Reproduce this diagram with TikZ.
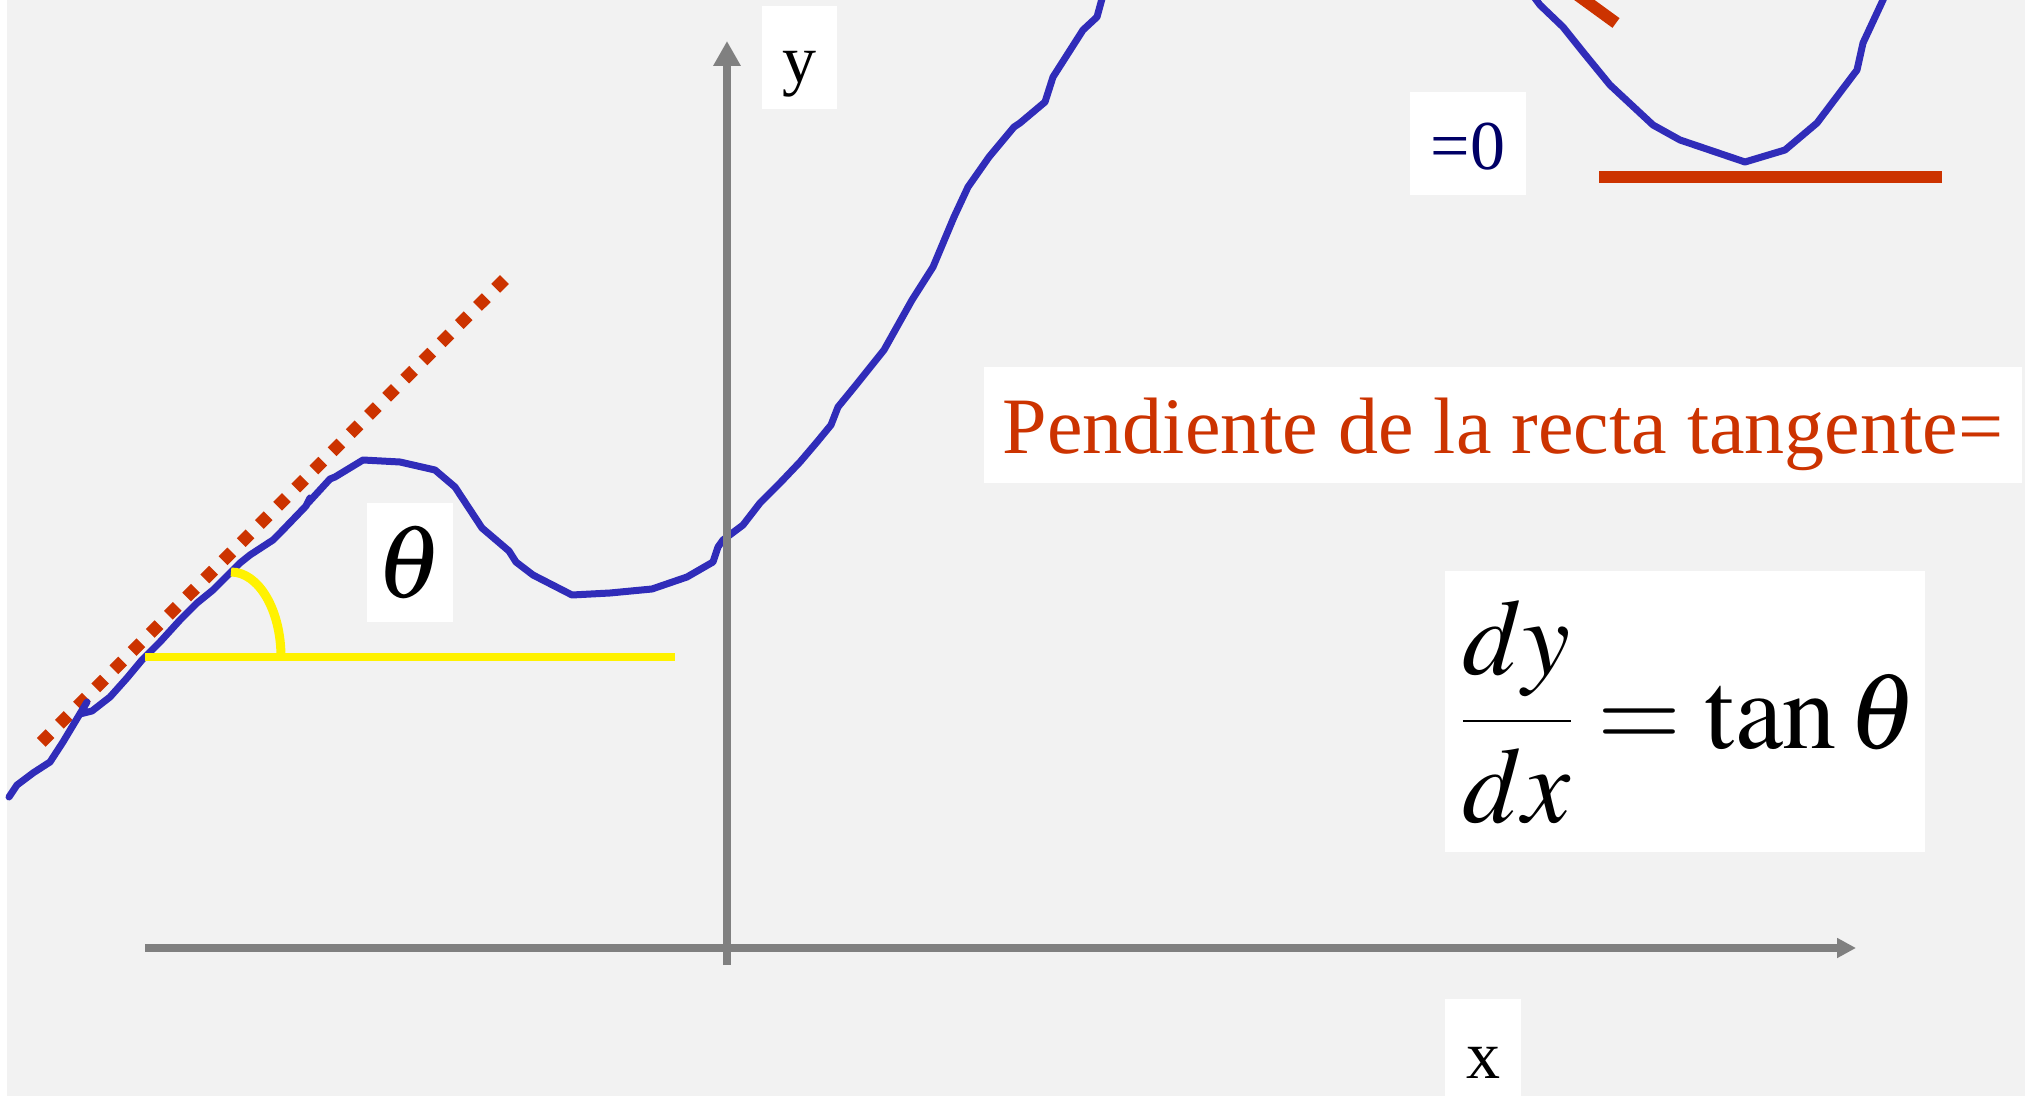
\documentclass[tikz,border=0pt]{standalone}
\usepackage{amsmath}
\usepackage{mathptmx}
\usepackage[no-math]{fontspec}
\setmainfont{Liberation Serif}
\usetikzlibrary{arrows.meta}
\definecolor{bggray}{RGB}{242,242,242}
\definecolor{curveblue}{RGB}{48,44,185}
\definecolor{tanred}{RGB}{204,51,0}
\definecolor{axisgray}{RGB}{128,128,128}
\definecolor{labelnavy}{RGB}{0,0,102}
\begin{document}
\begin{tikzpicture}[x=0.5pt,y=-0.5pt,
  axis/.style={draw=axisgray,line width=4pt},
  curve/.style={draw=curveblue,line width=3.5pt,line join=round,line cap=round},
  labelbox/.style={fill=white,inner sep=0pt,anchor=center}]
\useasboundingbox (0,0) rectangle (2025,1096);
\fill[bggray] (0,0) rectangle (2025,1096);
\fill[white] (0,0) rectangle (7,1096);
\clip (0,0) rectangle (2025,1096);

\draw[tanred,line width=6.2pt,dash pattern=on 6.2pt off 6.65pt] (41.2,742.4) -- (504.4,279.6);
\draw[tanred,line width=6pt] (1550,-25) -- (1616,23);
\draw[tanred,line width=6pt] (1599,177) -- (1942,177);

\draw[curve] plot coordinates {(9,797) (17,785) (33,773) (50,762) (63,742) (75,722)
  (87,702) (80,714) (92,711) (110,697) (127,678) (142,660) (160,642) (180,620)
  (197,603) (213,590) (230,573) (240,563) (250,555) (273,540) (280,533) (306,506)
  (310,498) (308,503) (330,479) (335,477) (363,460) (400,462) (435,470) (455,487)
  (482,528) (509,551) (516,562) (533,575) (572,595) (610,593) (652,589) (687,577)
  (713,562) (718,547) (723,540) (743,525) (760,503) (780,483) (800,462) (817,442)
  (831,425) (838,407) (856,385) (884,350) (912,300) (933,267) (954,217) (968,187)
  (989,157) (1014,127) (1020,123) (1045,102) (1053,77) (1083,30) (1097,17)
  (1103,-5) (1106,-15)};
\draw[curve] plot coordinates {(1525,-15) (1540,5) (1563,27) (1583,52) (1610,85)
  (1653,125) (1680,140) (1745,162) (1785,150) (1817,123) (1857,70) (1863,43)
  (1883,0) (1888,-12)};

\draw[yellow,line width=4pt] (145,657) -- (675,657);
\draw[yellow,line width=4.5pt] (231,572) .. controls (258.6,572) and (281,610) .. (281,657);

\draw[axis,-{Triangle[width=13pt,length=12.5pt]}] (727,965) -- (727,41);
\draw[axis,-{Triangle[width=9.5pt,length=9.5pt]}] (145,948) -- (1856,948);

\node[labelbox,minimum width=37.5pt,text height=38.5pt,text depth=13pt,
  font=\fontsize{34}{40}\selectfont] (ylab) at (799.5,57.5) {y};
\node[labelbox,minimum width=38pt,text height=39.5pt,text depth=9pt,
  font=\fontsize{34}{40}\selectfont] (xlab) at (1483,1047.5) {x};
\node[labelbox,minimum width=43pt,text height=47pt,text depth=12.5pt,
  font=\fontsize{52}{60}\selectfont] (theta) at (410,562.5) {$\theta$};
\node[labelbox,minimum width=58pt,text height=39pt,text depth=12.5pt,text=labelnavy,
  font=\fontsize{35}{42}\selectfont] (zero) at (1468,143.5) {=0};
\node[labelbox,minimum width=519pt,text height=43.5pt,text depth=14.5pt,text=tanred,
  font=\fontsize{40}{48}\selectfont] (pend) at (1503,425) {Pendiente de la recta tangente=};
\node[labelbox,minimum width=240pt,text height=88.5pt,text depth=52pt,
  font=\fontsize{54}{62}\selectfont] (deriv) at (1685,711.5)
  {\kern4pt$\displaystyle\genfrac{}{}{0.8pt}{0}{dy}{dx}=\tan\theta$};
\end{tikzpicture}
\end{document}
